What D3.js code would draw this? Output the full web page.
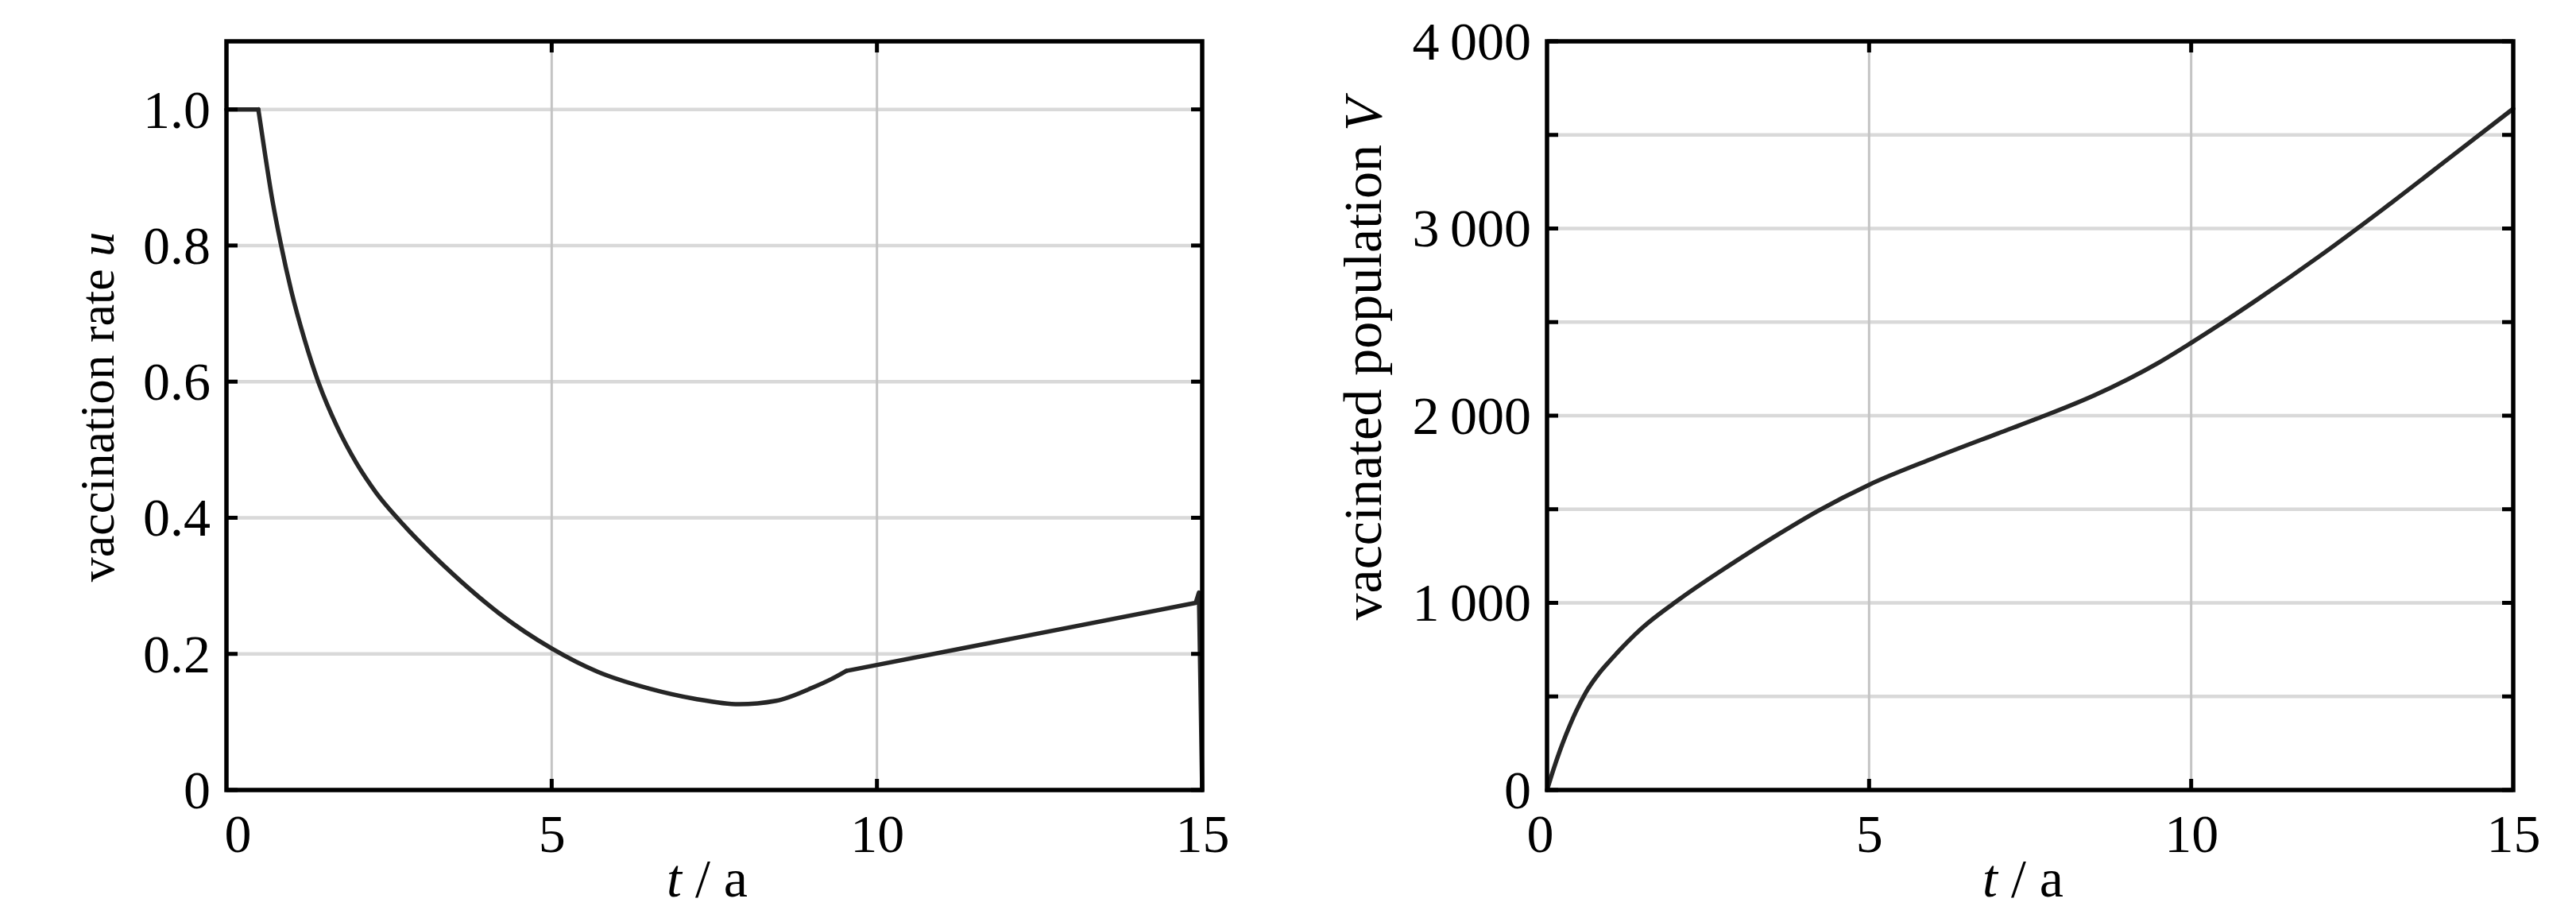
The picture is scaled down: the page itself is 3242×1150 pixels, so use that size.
<!DOCTYPE html>
<html>
<head>
<meta charset="utf-8">
<script src="https://cdn.jsdelivr.net/npm/d3@7"></script>
<style>
  html, body { margin: 0; padding: 0; background: #fff; }
  svg { display: block; }
  text { font-family: "Liberation Serif", "Times New Roman", serif; fill: #000; }
</style>
</head>
<body>
<svg id="chart" width="3242" height="1150"></svg>
<script>
// ---------------- data ----------------
// Left panel: vaccination rate u(t)
const rateT = [0, 0.49, 0.6, 0.7, 0.83, 1.0, 1.2, 1.41, 1.7, 2.0, 2.3, 2.67, 3.1, 3.6, 4.2, 5.0, 5.7, 6.5, 7.2, 7.88, 8.45, 9.0, 9.3, 9.53, 14.9, 14.95, 15.0];
const rateU = [1.0, 1.0, 0.93, 0.87, 0.805, 0.732, 0.662, 0.600, 0.534, 0.480, 0.437, 0.395, 0.352, 0.307, 0.259, 0.208, 0.174, 0.149, 0.134, 0.126, 0.131, 0.150, 0.163, 0.175, 0.275, 0.29, 0.0];
// kinks of the rate curve (piecewise: constant, smooth, linear)
const rateKinks = [0.49, 9.53];
// Right panel: vaccinated population V(t)
const popT = [0, 0.1, 0.2, 0.3, 0.45, 0.6, 0.8, 0.98, 1.46, 2.05, 2.83, 3.61, 4.2, 5.0, 6.0, 7.0, 7.62, 8.5, 9.5, 10.0, 11.0, 12.0, 13.0, 14.0, 15.0];
const popV = [0, 110, 210, 300, 420, 520, 620, 692, 861, 1018, 1200, 1370, 1490, 1631, 1773, 1905, 1986, 2109, 2284, 2389, 2614, 2854, 3109, 3374, 3640];

const xTicks = [0, 5, 10, 15];
const xGrid = [5, 10];
const rateTicks = [0, 0.2, 0.4, 0.6, 0.8, 1.0];
const popLabelTicks = [0, 1000, 2000, 3000, 4000];
const popTicks = [0, 500, 1000, 1500, 2000, 2500, 3000, 3500, 4000];

const xLabel = ["t", " / a"];
const leftYLabel = ["vaccination rate ", "u"];
const rightYLabel = ["vaccinated population ", "V"];

// ---------------- drawing ----------------
const svg = d3.select("#chart");
svg.append("rect").attr("width", 3242).attr("height", 1150).attr("fill", "#fff");

const FS = 68;
const locale = d3.formatLocale({decimal: ".", thousands: "\u2009", grouping: [3], currency: ["", ""]});
const fmtPop = locale.format(",");

function panel(opts) {
  const g = svg.append("g");
  const x = d3.scaleLinear().domain([0, 15]).range([opts.x0, opts.x1]);
  const y = d3.scaleLinear().domain(opts.yDomain).range([opts.y1, opts.y0]);

  // grid
  g.append("g").selectAll("line").data(opts.yGrid).join("line")
    .attr("x1", opts.x0).attr("x2", opts.x1)
    .attr("y1", d => y(d)).attr("y2", d => y(d))
    .attr("stroke", "#d9d9d9").attr("stroke-width", 4.5);
  g.append("g").selectAll("line").data(xGrid).join("line")
    .attr("x1", d => x(d)).attr("x2", d => x(d))
    .attr("y1", opts.y0).attr("y2", opts.y1)
    .attr("stroke", "#c4c4c4").attr("stroke-width", 3);

  // curve: split into segments at kinks; smooth segments use monotone interpolation
  const data = opts.data;
  const cuts = [0, ...opts.kinks.map(k => data.findIndex(d => d[0] === k)), data.length - 1];
  const smoothSeg = opts.smoothSeg;
  for (let s = 0; s < cuts.length - 1; s++) {
    const seg = data.slice(cuts[s], cuts[s + 1] + 1);
    const curve = smoothSeg.includes(s) ? d3.curveMonotoneX : d3.curveLinear;
    const line = d3.line().x(d => x(d[0])).y(d => y(d[1])).curve(curve);
    g.append("path").datum(seg)
      .attr("d", line).attr("fill", "none")
      .attr("stroke", "#262626").attr("stroke-width", 5.5)
      .attr("stroke-linejoin", "round").attr("stroke-linecap", "round");
  }

  // inward ticks (all four sides)
  const TL = 14;
  const tk = g.append("g").attr("stroke", "#000").attr("stroke-width", 5);
  opts.yGrid.forEach(v => {
    tk.append("line").attr("x1", opts.x0).attr("x2", opts.x0 + TL).attr("y1", y(v)).attr("y2", y(v));
    tk.append("line").attr("x1", opts.x1).attr("x2", opts.x1 - TL).attr("y1", y(v)).attr("y2", y(v));
  });
  xGrid.forEach(v => {
    tk.append("line").attr("x1", x(v)).attr("x2", x(v)).attr("y1", opts.y1).attr("y2", opts.y1 - TL);
    tk.append("line").attr("x1", x(v)).attr("x2", x(v)).attr("y1", opts.y0).attr("y2", opts.y0 + TL);
  });

  // frame
  g.append("rect")
    .attr("x", opts.x0).attr("y", opts.y0)
    .attr("width", opts.x1 - opts.x0).attr("height", opts.y1 - opts.y0)
    .attr("fill", "none").attr("stroke", "#000").attr("stroke-width", 5.5);

  // y tick labels (axis generator, no domain/tick lines)
  const yAxis = d3.axisLeft(y).tickValues(opts.yLabelTicks).tickFormat(opts.yFmt)
    .tickSize(0).tickPadding(20);
  const ya = g.append("g").attr("transform", `translate(${opts.x0},0)`).call(yAxis);
  ya.select(".domain").remove();
  ya.selectAll("text").attr("font-size", FS).attr("font-family", "Liberation Serif")
    .attr("dy", "0.33em").attr("fill", "#000");

  // x tick labels
  const xAxis = d3.axisBottom(x).tickValues(xTicks).tickFormat(d3.format("d"))
    .tickSize(0).tickPadding(0);
  const xa = g.append("g").attr("transform", `translate(0,${opts.y1})`).call(xAxis);
  xa.select(".domain").remove();
  xa.selectAll("text").attr("font-size", FS).attr("font-family", "Liberation Serif")
    .attr("dy", null).attr("y", 78).attr("fill", "#000")
    .attr("dx", d => d === 0 ? opts.zeroDx : 0);

  // x axis title
  const xt = g.append("text").attr("x", opts.xTitleX).attr("y", 1128)
    .attr("text-anchor", "middle").attr("font-size", FS);
  xt.append("tspan").attr("font-style", "italic").text(xLabel[0]);
  xt.append("tspan").text(xLabel[1]);

  // y axis title
  const yt = g.append("text")
    .attr("transform", `translate(${opts.yTitleX},${opts.yTitleY}) rotate(-90)`)
    .attr("text-anchor", "middle").attr("font-size", opts.yTitleFS);
  yt.append("tspan").text(opts.yLabel[0]);
  yt.append("tspan").attr("font-style", "italic").text(opts.yLabel[1]);
}

panel({
  x0: 285, x1: 1513, y0: 52, y1: 994,
  yDomain: [0, 1.1],
  yGrid: rateTicks,
  yLabelTicks: rateTicks,
  yFmt: d => d === 0 ? "0" : d3.format(".1f")(d),
  data: rateT.map((t, i) => [t, rateU[i]]),
  kinks: rateKinks, smoothSeg: [1],
  zeroDx: 14,
  xTitleX: 890,
  yTitleX: 143, yTitleY: 512, yTitleFS: 62,
  yLabel: leftYLabel
});

panel({
  x0: 1947, x1: 3163, y0: 52, y1: 994,
  yDomain: [0, 4000],
  yGrid: popTicks,
  yLabelTicks: popLabelTicks,
  yFmt: d => d === 0 ? "0" : fmtPop(d),
  data: popT.map((t, i) => [t, popV[i]]),
  kinks: [], smoothSeg: [0],
  zeroDx: -9,
  xTitleX: 2546,
  yTitleX: 1738, yTitleY: 452, yTitleFS: 68,
  yLabel: rightYLabel
});
</script>
</body>
</html>
